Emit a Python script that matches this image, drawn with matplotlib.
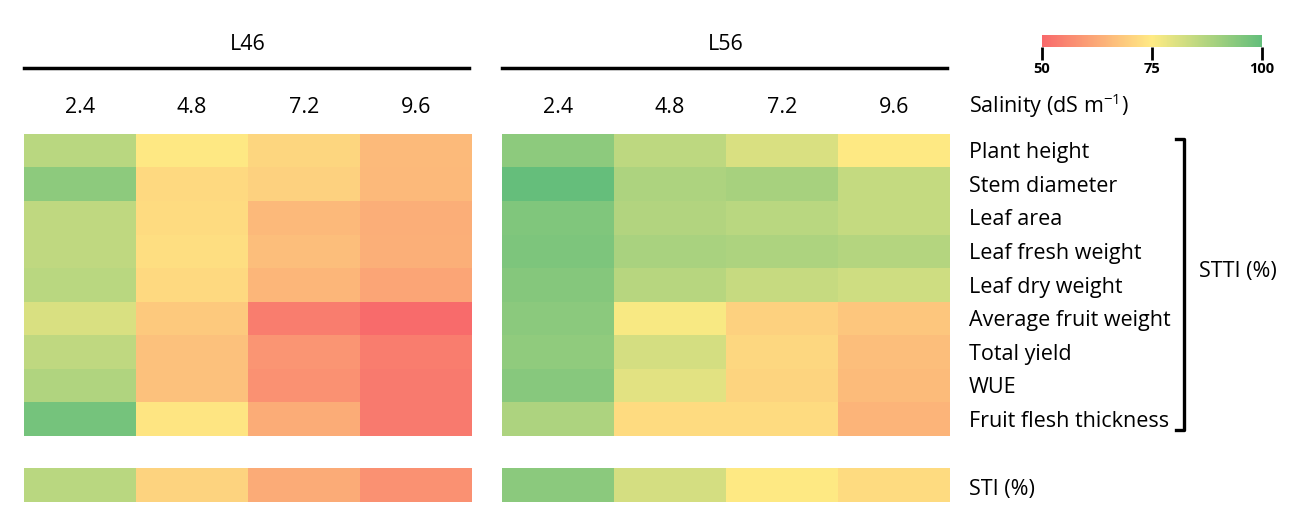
import matplotlib
matplotlib.use('Agg')
import matplotlib.pyplot as plt
import numpy as np
from matplotlib.colors import LinearSegmentedColormap, Normalize

plt.rcParams['font.family'] = ['Open Sans', 'DejaVu Sans']
plt.rcParams['mathtext.fontset'] = 'custom'
plt.rcParams['mathtext.rm'] = 'Open Sans'
plt.rcParams['mathtext.default'] = 'rm'

# ─── Data ───
salinity = ['2.4', '4.8', '7.2', '9.6']
traits = ['Plant height', 'Stem diameter', 'Leaf area', 'Leaf fresh weight',
          'Leaf dry weight', 'Average fruit weight', 'Total yield', 'WUE',
          'Fruit flesh thickness']
lines = ['L46', 'L56']

# STTI (%) per trait (rows) x salinity (cols)
stti_l46 = [
    [86.0, 74.5, 71.0, 65.8],
    [93.0, 71.5, 70.0, 65.6],
    [85.0, 72.0, 65.6, 63.3],
    [85.0, 72.5, 66.5, 63.5],
    [86.0, 71.5, 65.0, 61.7],
    [81.0, 68.6, 54.0, 50.5],
    [85.0, 67.0, 58.7, 54.0],
    [87.5, 67.0, 58.0, 53.4],
    [97.0, 74.0, 63.0, 53.4],
]
stti_l56 = [
    [93.0, 85.5, 81.0, 74.7],
    [99.5, 88.0, 89.0, 84.2],
    [95.3, 87.2, 86.0, 84.2],
    [95.7, 88.6, 88.0, 86.8],
    [94.5, 86.5, 84.0, 82.8],
    [93.5, 76.0, 70.0, 68.0],
    [92.7, 81.8, 71.2, 66.5],
    [94.0, 79.5, 70.7, 66.0],
    [88.0, 72.0, 72.0, 64.5],
]
sti_l46 = [86.0, 70.5, 62.8, 58.0]
sti_l56 = [93.5, 81.8, 74.7, 72.0]

cmap = LinearSegmentedColormap.from_list(
    'ryg', [(0.0, '#F8696B'), (0.5, '#FFEB84'), (1.0, '#63BE7B')])
norm = Normalize(50, 100)

W, H = 1296, 517
FS = 15.5
fig = plt.figure(figsize=(W / 100, H / 100), dpi=100)


def px_axes(x0, y0, x1, y1):
    # pixel box (top-left origin) -> figure axes
    return fig.add_axes([x0 / W, 1 - y1 / H, (x1 - x0) / W, (y1 - y0) / H])


def fx(x):
    return x / W


def fy(y):
    return 1 - y / H


panels = [(24, 472, stti_l46, sti_l46), (502, 950, stti_l56, sti_l56)]
for (x0, x1, stti, sti), name in zip(panels, lines):
    ax = px_axes(x0, 134, x1, 436)
    ax.imshow(np.array(stti), cmap=cmap, norm=norm, aspect='auto',
              interpolation='nearest')
    ax.set_axis_off()

    ax_s = px_axes(x0, 468, x1, 502)
    ax_s.imshow(np.array([sti]), cmap=cmap, norm=norm, aspect='auto',
                interpolation='nearest')
    ax_s.set_axis_off()

    # line header + rule
    fig.text(fx((x0 + x1) / 2), fy(45), name, ha='center', va='center',
             fontsize=FS)
    fig.add_artist(plt.Line2D([fx(x0), fx(x1 - 3)], [fy(68), fy(68)],
                              color='black', lw=2.5))
    cw = (x1 - x0) / len(salinity)
    for i, s in enumerate(salinity):
        fig.text(fx(x0 + cw * (i + 0.5)), fy(107), s, ha='center',
                 va='center', fontsize=FS)

# right-hand labels
fig.text(fx(969), fy(106), 'Salinity (dS m$^{-1}$)', ha='left', va='center',
         fontsize=FS)
row_h = (436 - 134) / len(traits)
for j, t in enumerate(traits):
    fig.text(fx(969), fy(134 + row_h * (j + 0.5) + 2), t, ha='left',
             va='center', fontsize=FS)
fig.text(fx(969), fy(489), 'STI (%)', ha='left', va='center', fontsize=FS)

# bracket
bx = 1184
fig.add_artist(plt.Line2D([fx(bx - 8), fx(bx), fx(bx), fx(bx - 8)],
                          [fy(139), fy(139), fy(430), fy(430)],
                          color='black', lw=2.4))
fig.text(fx(1199), fy(271), 'STTI (%)', ha='left', va='center', fontsize=FS)

# colorbar
cax = px_axes(1042, 35, 1262, 47)
cb = fig.colorbar(plt.cm.ScalarMappable(norm=norm, cmap=cmap), cax=cax,
                  orientation='horizontal', ticks=[50, 75, 100])
cb.outline.set_visible(False)
cax.tick_params(length=9, width=2, labelsize=10.5, pad=2)
for lab in cax.get_xticklabels():
    lab.set_fontweight('bold')

fig.savefig('out.png', dpi=100)
